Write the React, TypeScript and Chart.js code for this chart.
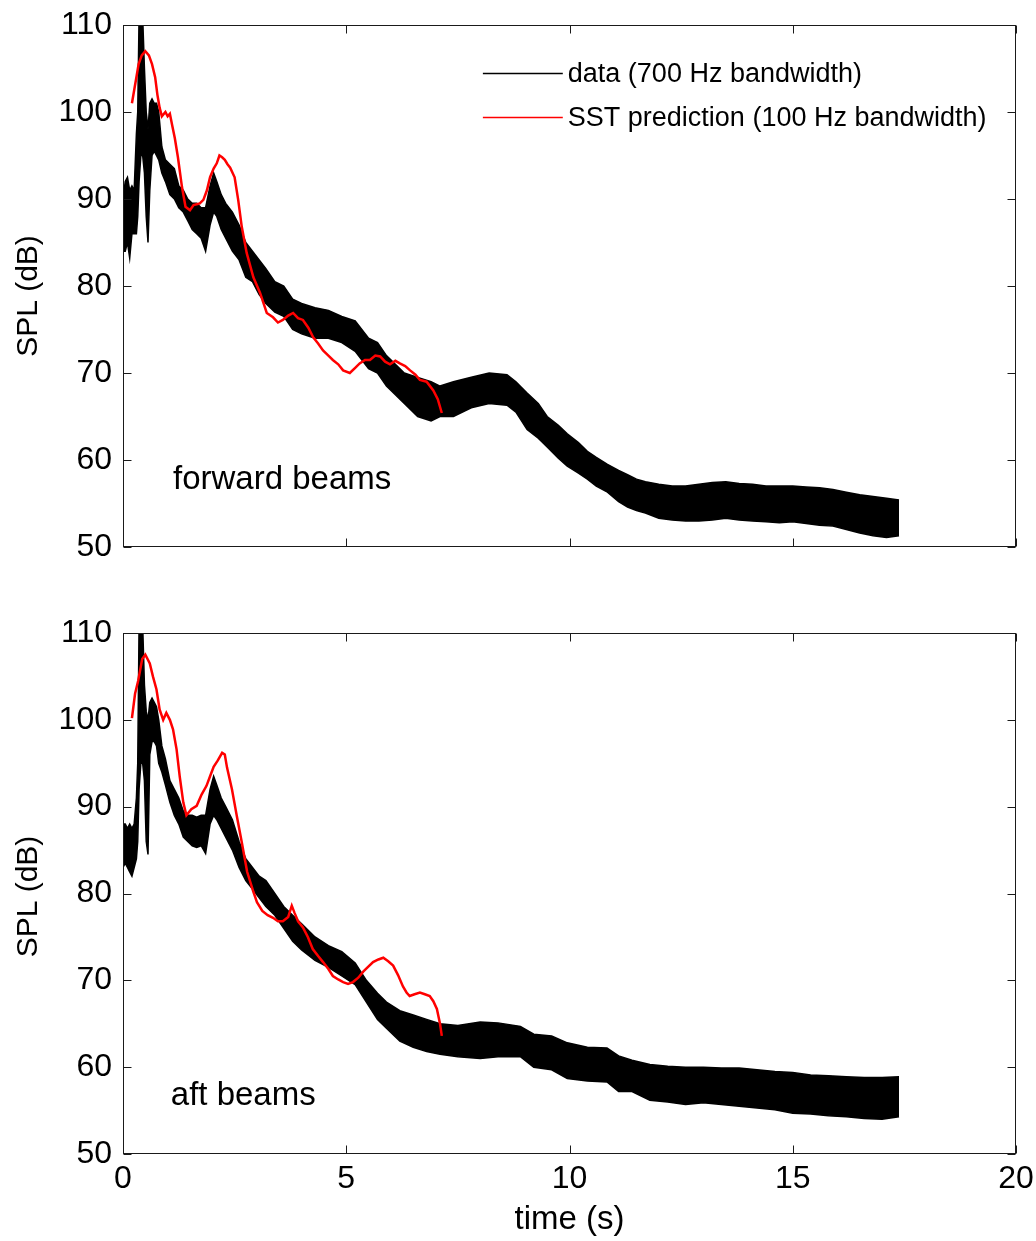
import React, { useEffect, useRef } from "react";
import { Chart, registerables } from "chart.js";

Chart.register(...registerables);

const FONT = '"Liberation Sans", Arial, Helvetica, sans-serif';

// ---- axis ticks / labels ----
const xTickValues = [0, 5, 10, 15, 20];
const yTickValues = [50, 60, 70, 80, 90, 100, 110];
const xTitle = "time (s)";
const yTitle = "SPL (dB)";
const legendLabels = ["data (700 Hz bandwidth)", "SST prediction (100 Hz bandwidth)"];
const legendColors = ["#000000", "#ff0000"];
const panelLabels = ["forward beams", "aft beams"];

// ---- forward beams: measured data (envelope of the noisy 700 Hz trace) ----
const fwdTime = [0, 0.05, 0.1, 0.15, 0.2, 0.25, 0.3, 0.33, 0.36, 0.4, 0.44, 0.48, 0.52, 0.56, 0.6, 0.65, 0.7, 0.75, 0.8, 0.87, 0.95, 1.05, 1.15, 1.25, 1.35, 1.45, 1.55, 1.65, 1.75, 1.85, 1.95, 2.03, 2.1, 2.2, 2.3, 2.45, 2.6, 2.75, 2.9, 3.05, 3.2, 3.4, 3.6, 3.8, 4.0, 4.3, 4.6, 4.9, 5.2, 5.5, 5.7, 5.9, 6.1, 6.3, 6.6, 6.9, 7.1, 7.4, 7.8, 8.2, 8.6, 8.8, 9.05, 9.3, 9.5, 9.75, 9.95, 10.2, 10.4, 10.6, 10.85, 11.1, 11.3, 11.5, 11.7, 12.0, 12.3, 12.6, 12.9, 13.2, 13.5, 13.8, 14.1, 14.4, 14.7, 15.0, 15.3, 15.6, 15.9, 16.2, 16.5, 16.8, 17.1, 17.38];
const fwdDataUpper = [90, 92, 92.5, 91, 91.5, 91, 97.5, 100, 111, 112, 111, 105, 100, 98, 101, 101.5, 101, 101, 100, 96, 94.5, 94, 93.5, 91.5, 91, 90, 89.5, 89.5, 89, 89, 91.5, 93, 92, 90.5, 89.5, 88.5, 87, 85, 84, 83, 82, 80.5, 80, 78.5, 78, 77.5, 77.2, 76.5, 76, 74, 73.5, 72, 71, 70, 69.5, 69, 68.5, 69, 69.5, 70, 69.8, 69, 67.7, 66.5, 65, 64, 63, 62, 61, 60.3, 59.5, 58.8, 58.3, 57.8, 57.5, 57.2, 57, 57, 57.2, 57.4, 57.5, 57.3, 57.2, 57, 57, 57, 56.9, 56.8, 56.6, 56.3, 56, 55.8, 55.6, 55.4];
const fwdDataLower = [84, 84, 85, 83.2, 86, 86, 86, 88, 92, 95, 95, 93, 88, 85, 91, 95, 95.5, 95, 94.5, 93, 92, 90.5, 90, 89, 88.5, 87.5, 86.5, 86, 85.5, 84, 87, 88.5, 88, 86.5, 85.5, 84, 83, 81, 80.5, 79, 78, 77, 76.5, 75, 74.5, 74, 74, 73.5, 72.5, 70.5, 70, 68.5, 67.5, 66.5, 65, 64.5, 65, 65, 66, 66.5, 66.3, 65.5, 63.5, 62.5, 61.5, 60.2, 59.3, 58.5, 57.8, 57, 56.3, 55.2, 54.6, 54.2, 53.9, 53.3, 53.1, 53, 53, 53.1, 53.3, 53.1, 53, 52.9, 52.8, 52.9, 52.7, 52.5, 52.4, 52, 51.6, 51.3, 51.1, 51.3];

// ---- forward beams: SST prediction ----
const fwdSstTime = [0.2, 0.25, 0.3, 0.35, 0.42, 0.5, 0.58, 0.65, 0.72, 0.77, 0.82, 0.87, 0.95, 1.0, 1.05, 1.1, 1.16, 1.23, 1.32, 1.4, 1.5, 1.58, 1.65, 1.72, 1.8, 1.88, 1.95, 2.03, 2.1, 2.16, 2.22, 2.28, 2.34, 2.4, 2.5, 2.58, 2.66, 2.77, 2.92, 3.07, 3.22, 3.36, 3.47, 3.58, 3.7, 3.81, 3.92, 4.03, 4.15, 4.26, 4.37, 4.48, 4.6, 4.7, 4.82, 4.93, 5.08, 5.2, 5.3, 5.42, 5.53, 5.65, 5.76, 5.87, 5.98, 6.1, 6.2, 6.32, 6.43, 6.55, 6.65, 6.8, 6.95, 7.05, 7.14];
const fwdSst = [101, 102.5, 104, 105.5, 106.5, 107, 106.5, 105.5, 104, 102, 100.5, 99.5, 100, 99.5, 99.8, 98.5, 97, 94.8, 91.4, 89.1, 88.7, 89.3, 89.4, 89.5, 89.9, 91, 92.5, 93.5, 94.1, 95, 94.8, 94.5, 94, 93.6, 92.5, 89.9, 86.8, 83.8, 81, 79.2, 76.9, 76.4, 75.8, 76.1, 76.6, 76.9, 76.3, 76.1, 75.2, 74.1, 73.4, 72.6, 72, 71.5, 71, 70.3, 70, 70.6, 71.1, 71.5, 71.5, 72, 71.9, 71.3, 71, 71.4, 71.1, 70.8, 70.3, 69.8, 69.2, 69, 68, 67, 65.4];

// ---- aft beams: measured data envelope ----
const aftTime = [0, 0.05, 0.1, 0.15, 0.2, 0.25, 0.3, 0.33, 0.36, 0.4, 0.44, 0.48, 0.52, 0.56, 0.6, 0.65, 0.7, 0.75, 0.8, 0.87, 0.95, 1.05, 1.15, 1.25, 1.35, 1.45, 1.55, 1.65, 1.75, 1.85, 1.95, 2.03, 2.1, 2.2, 2.3, 2.45, 2.6, 2.75, 2.9, 3.05, 3.2, 3.4, 3.6, 3.8, 4.0, 4.3, 4.6, 4.9, 5.2, 5.45, 5.7, 5.9, 6.2, 6.5, 6.8, 7.1, 7.5, 8.0, 8.4, 8.9, 9.2, 9.6, 9.95, 10.4, 10.84, 11.1, 11.4, 11.8, 12.2, 12.6, 13.0, 13.4, 13.8, 14.2, 14.6, 15.0, 15.4, 15.8, 16.2, 16.6, 17.0, 17.38];
const aftDataUpper = [88, 88, 87.5, 88, 87.5, 88, 91, 95, 111, 112, 111, 104, 101, 100, 102, 102.5, 102, 101.5, 100, 97, 95.5, 93, 92, 91, 89.5, 89, 89, 88.8, 89, 89, 92, 93.5, 92.5, 91, 90, 88.5, 86, 84, 83, 82, 81.5, 80, 78.5, 77.5, 76.5, 75, 74, 73.3, 72, 70, 68.5, 67.5, 66.5, 66, 65.5, 65, 64.8, 65.2, 65.1, 64.7, 63.8, 63.6, 62.8, 62.3, 62.2, 61.3, 60.8, 60.3, 60.1, 60, 60, 59.9, 59.9, 59.7, 59.5, 59.4, 59.1, 59, 58.9, 58.8, 58.8, 58.9];
const aftDataLower = [83, 83.5, 83, 82.5, 82, 83, 84, 86, 92, 95, 95, 93, 86, 84.5, 96, 97.5, 97.5, 97, 95, 94, 92.5, 90.5, 89, 88, 86.5, 86, 85.5, 85.3, 85.5, 84.6, 88, 89, 88.5, 87.5, 86.5, 85, 83, 81.5, 80.5, 79.5, 78.5, 77.5, 76, 74.5, 73.5, 72.3, 71.5, 70.5, 69.5, 67.5, 65.5, 64.5, 63, 62.3, 61.8, 61.5, 61.2, 61, 61.2, 61.2, 60, 59.7, 58.7, 58.4, 58.3, 57.2, 57.2, 56.2, 56, 55.7, 55.9, 55.7, 55.5, 55.3, 55.1, 54.7, 54.6, 54.4, 54.3, 54.1, 54, 54.3];

// ---- aft beams: SST prediction ----
const aftSstTime = [0.2, 0.27, 0.34, 0.43, 0.5, 0.6, 0.67, 0.75, 0.82, 0.9, 0.97, 1.05, 1.12, 1.2, 1.27, 1.35, 1.42, 1.53, 1.65, 1.76, 1.87, 1.95, 2.03, 2.12, 2.22, 2.28, 2.33, 2.44, 2.55, 2.66, 2.78, 2.92, 3.0, 3.12, 3.24, 3.36, 3.47, 3.58, 3.7, 3.78, 3.84, 3.92, 4.03, 4.14, 4.25, 4.37, 4.48, 4.6, 4.7, 4.82, 4.93, 5.04, 5.15, 5.27, 5.38, 5.5, 5.6, 5.72, 5.83, 5.94, 6.05, 6.16, 6.27, 6.35, 6.42, 6.53, 6.65, 6.76, 6.87, 6.95, 7.03, 7.1, 7.14];
const aftSst = [100.2, 103, 104.5, 107, 107.5, 106.5, 105, 103.5, 101.2, 100, 100.8, 100, 98.9, 96.6, 93.5, 90.5, 89, 89.7, 90.1, 91.4, 92.4, 93.5, 94.6, 95.3, 96.2, 96, 94.5, 92, 88.9, 85.9, 82.5, 80.2, 79, 78, 77.5, 77.2, 76.8, 76.8, 77.3, 78.6, 77.8, 76.8, 76.1, 75, 73.6, 72.8, 72.1, 71.3, 70.5, 70.1, 69.8, 69.6, 69.8, 70.3, 71, 71.6, 72.1, 72.4, 72.6, 72.2, 71.7, 70.6, 69.3, 68.6, 68.2, 68.4, 68.6, 68.4, 68.2, 67.6, 66.7, 65, 63.6];

const toPoints = (xs: number[], ys: number[]) => xs.map((x, i) => ({ x, y: ys[i] }));

const decorPlugin = {
  id: "decor",
  afterDraw(chart: any, _args: any, o: any) {
    const { ctx, chartArea: a, scales } = chart;
    const xs = scales.x;
    const ys = scales.y;
    ctx.save();
    ctx.strokeStyle = "#1a1a1a";
    ctx.lineWidth = 1;
    const L = Math.round(a.left) + 0.5;
    const R = Math.round(a.right) - 0.5;
    const T = Math.round(a.top) + 0.5;
    const B = Math.round(a.bottom) - 0.5;
    ctx.strokeRect(L, T, R - L, B - T);
    ctx.beginPath();
    for (const v of xTickValues) {
      const p = Math.round(xs.getPixelForValue(v)) + 0.5;
      ctx.moveTo(p, B);
      ctx.lineTo(p, B - 8);
      ctx.moveTo(p, T);
      ctx.lineTo(p, T + 8);
    }
    for (const v of yTickValues) {
      const p = Math.round(ys.getPixelForValue(v)) + 0.5;
      ctx.moveTo(L, p);
      ctx.lineTo(L + 8, p);
      ctx.moveTo(R, p);
      ctx.lineTo(R - 8, p);
    }
    ctx.stroke();

    ctx.fillStyle = "#000";
    // y-axis title
    ctx.save();
    ctx.font = `30px ${FONT}`;
    ctx.translate(29, (a.top + a.bottom) / 2 + o.yTitleShift);
    ctx.rotate(-Math.PI / 2);
    ctx.textAlign = "center";
    ctx.textBaseline = "middle";
    ctx.fillText(yTitle, 0, 0);
    ctx.restore();

    // panel label
    ctx.font = `33px ${FONT}`;
    ctx.textAlign = "left";
    ctx.textBaseline = "alphabetic";
    ctx.fillText(o.panelLabel, xs.getPixelForValue(o.labelX), ys.getPixelForValue(o.labelY));

    // legend
    if (o.legend) {
      const x0 = xs.getPixelForValue(8.06);
      const x1 = xs.getPixelForValue(9.85);
      const yv = [104.5, 99.4];
      ctx.font = `27px ${FONT}`;
      ctx.textAlign = "left";
      ctx.textBaseline = "middle";
      legendLabels.forEach((lab, i) => {
        const y = Math.round(ys.getPixelForValue(yv[i])) + 0.5;
        ctx.save();
        ctx.strokeStyle = legendColors[i];
        ctx.lineWidth = 1.5;
        ctx.beginPath();
        ctx.moveTo(x0, y);
        ctx.lineTo(x1, y);
        ctx.stroke();
        ctx.restore();
        ctx.fillStyle = "#000";
        ctx.fillText(lab, x1 + 5, y + 1);
      });
    }

    // x-axis title
    if (o.xTitle) {
      ctx.font = `33px ${FONT}`;
      ctx.textAlign = "center";
      ctx.textBaseline = "middle";
      ctx.fillText(xTitle, (a.left + a.right) / 2, a.bottom + 66);
    }
    ctx.restore();
  },
};

type PanelProps = {
  top: number;
  height: number;
  padTop: number;
  axisHeight: number;
  showX: boolean;
  time: number[];
  upper: number[];
  lower: number[];
  sstTime: number[];
  sst: number[];
  panelLabel: string;
  labelX: number;
  labelY: number;
  legend: boolean;
  yTitleShift: number;
};

function Panel(p: PanelProps) {
  const ref = useRef<HTMLCanvasElement | null>(null);
  useEffect(() => {
    if (!ref.current) return;
    const chart = new Chart(ref.current, {
      type: "line",
      data: {
        datasets: [
          {
            label: "data upper",
            data: toPoints(p.time, p.upper),
            borderColor: "#000",
            borderWidth: 1.5,
            pointRadius: 0,
            fill: false,
            order: 2,
          },
          {
            label: legendLabels[0],
            data: toPoints(p.time, p.lower),
            borderColor: "#000",
            backgroundColor: "#000",
            borderWidth: 1.5,
            pointRadius: 0,
            fill: "-1",
            order: 2,
          },
          {
            label: legendLabels[1],
            data: toPoints(p.sstTime, p.sst),
            borderColor: "#ff0000",
            borderWidth: 2.5,
            pointRadius: 0,
            fill: false,
            order: 1,
          },
        ],
      } as any,
      plugins: [decorPlugin as any],
      options: {
        animation: false,
        responsive: false,
        maintainAspectRatio: false,
        events: [],
        layout: { padding: { left: 0, right: 20, top: p.padTop, bottom: 0 } },
        scales: {
          x: {
            type: "linear",
            min: 0,
            max: 20,
            grid: { display: false, drawTicks: false },
            border: { display: false },
            afterBuildTicks: (s: any) => {
              s.ticks = xTickValues.map((v) => ({ value: v }));
            },
            afterFit: (s: any) => {
              s.height = p.axisHeight;
              s.paddingLeft = 0;
              s.paddingRight = 0;
            },
            ticks: {
              display: p.showX,
              color: "#000",
              padding: 6,
              maxRotation: 0,
              font: { family: FONT, size: 32 },
            },
          },
          y: {
            type: "linear",
            min: 50,
            max: 110,
            grid: { display: false, drawTicks: false },
            border: { display: false },
            afterBuildTicks: (s: any) => {
              s.ticks = yTickValues.map((v) => ({ value: v }));
            },
            afterFit: (s: any) => {
              s.width = 123;
              s.paddingTop = 0;
              s.paddingBottom = 0;
            },
            ticks: {
              color: "#000",
              padding: 11,
              font: { family: FONT, size: 32 },
            },
          },
        },
        plugins: {
          legend: { display: false },
          tooltip: { enabled: false },
          decor: {
            panelLabel: p.panelLabel,
            labelX: p.labelX,
            labelY: p.labelY,
            legend: p.legend,
            xTitle: p.showX,
            yTitleShift: p.yTitleShift,
          },
        } as any,
      },
    });
    return () => chart.destroy();
  }, []);
  return (
    <canvas
      ref={ref}
      width={1036}
      height={p.height}
      style={{ position: "absolute", left: 0, top: p.top, width: 1036, height: p.height, display: "block" }}
    />
  );
}

export default function App() {
  return (
    <div style={{ position: "absolute", left: 0, top: 0, width: 1036, height: 1241, background: "#fff" }}>
      <Panel
        top={0}
        height={590}
        padTop={25}
        axisHeight={43}
        showX={false}
        time={fwdTime}
        upper={fwdDataUpper}
        lower={fwdDataLower}
        sstTime={fwdSstTime}
        sst={fwdSst}
        panelLabel={panelLabels[0]}
        labelX={1.12}
        labelY={56.7}
        legend={true}
        yTitleShift={10}
      />
      <Panel
        top={590}
        height={651}
        padTop={43}
        axisHeight={87}
        showX={true}
        time={aftTime}
        upper={aftDataUpper}
        lower={aftDataLower}
        sstTime={aftSstTime}
        sst={aftSst}
        panelLabel={panelLabels[1]}
        labelX={1.07}
        labelY={55.7}
        legend={false}
        yTitleShift={3}
      />
    </div>
  );
}
